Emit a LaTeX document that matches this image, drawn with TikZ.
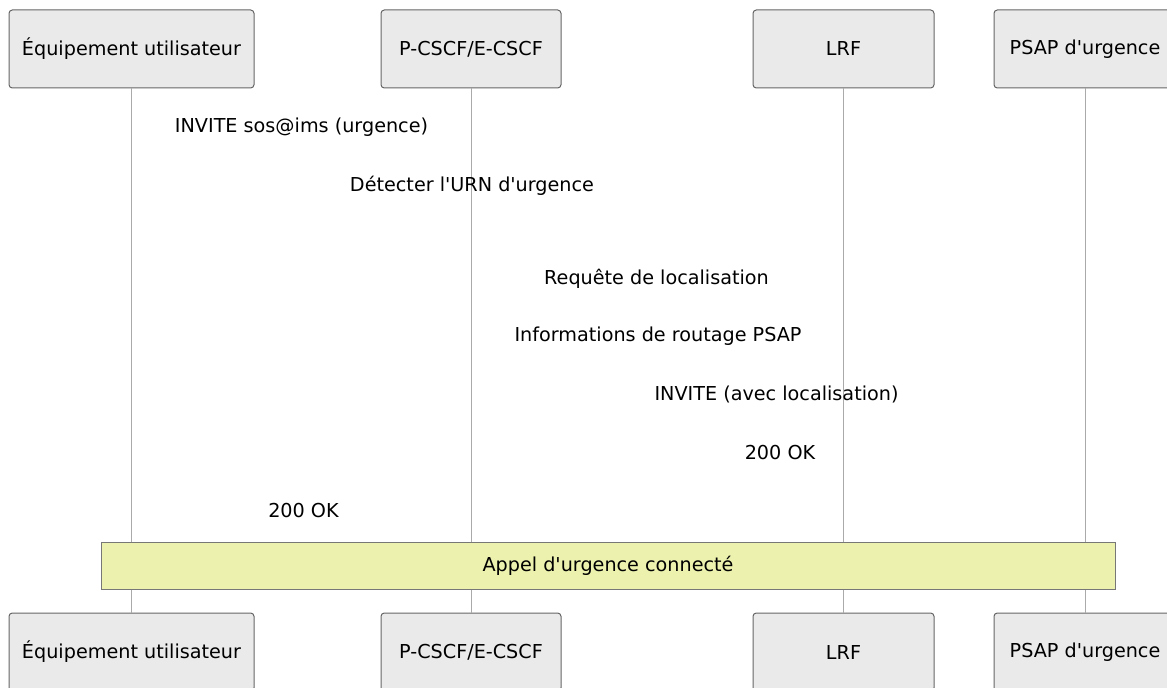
\documentclass[tikz,border=0pt]{standalone}
\usepackage{fontspec}
\setmainfont{DejaVu Sans}
\newcommand\apos{\textquotesingle}
\definecolor{actfill}{HTML}{EAEAEA}
\definecolor{actdraw}{HTML}{666666}
\definecolor{lifeline}{HTML}{AAAAAA}
\definecolor{notefill}{HTML}{ECF2AE}
\definecolor{notedraw}{HTML}{777777}
\begin{document}
\begin{tikzpicture}[x=0.75pt,y=-0.75pt,
  actor/.style={draw=actdraw,fill=actfill,rounded corners=2.5pt,line width=0.75pt,
    minimum height=58.5pt,inner sep=0pt,font=\fontsize{14.4}{17}\selectfont},
  msg/.style={inner sep=0pt,font=\fontsize{14.4}{17}\selectfont},
  life/.style={draw=lifeline,line width=0.75pt},
  notebox/.style={draw=notedraw,fill=notefill,line width=0.75pt,inner sep=0pt,
    minimum height=35.25pt,font=\fontsize{14.4}{17}\selectfont}]
\clip (0,0) rectangle (1167,688);
\useasboundingbox (0,0) rectangle (1167,688);
% actors top
\node[actor,minimum width=183.75pt] (ue) at (131.5,49) {Équipement utilisateur};
\node[actor,minimum width=135pt] (cscf) at (471,49) {P-CSCF/E-CSCF};
\node[actor,minimum width=135.75pt] (lrf) at (843.5,49) {LRF};
\node[actor,minimum width=136.5pt] (psap) at (1085,49) {PSAP d\apos urgence};
% actors bottom
\node[actor,minimum width=183.75pt] (ueb) at (131.5,652) {Équipement utilisateur};
\node[actor,minimum width=135pt] (cscfb) at (471,652) {P-CSCF/E-CSCF};
\node[actor,minimum width=135.75pt] (lrfb) at (843.5,652) {LRF};
\node[actor,minimum width=136.5pt] (psapb) at (1085,652) {PSAP d\apos urgence};
% lifelines
\draw[life] (ue.south) -- (ueb.north);
\draw[life] (cscf.south) -- (cscfb.north);
\draw[life] (lrf.south) -- (lrfb.north);
\draw[life] (psap.south) -- (psapb.north);
% messages
\node[msg] (m1) at (301.5,127.5) {INVITE sos@ims (urgence)};
\node[msg] (m2) at (472,185.5) {Détecter l\apos URN d\apos urgence};
\node[msg] (m3) at (656.5,278.5) {Requête de localisation};
\node[msg] (m4) at (658,336.5) {Informations de routage PSAP};
\node[msg] (m5) at (776.5,394.5) {INVITE (avec localisation)};
\node[msg] (m6) at (780,452.5) {200 OK};
\node[msg] (m7) at (303.5,510.5) {200 OK};
% note
\node[notebox,minimum width=760.5pt] (note) at (608,565.5) {Appel d\apos urgence connecté};
\end{tikzpicture}
\end{document}
